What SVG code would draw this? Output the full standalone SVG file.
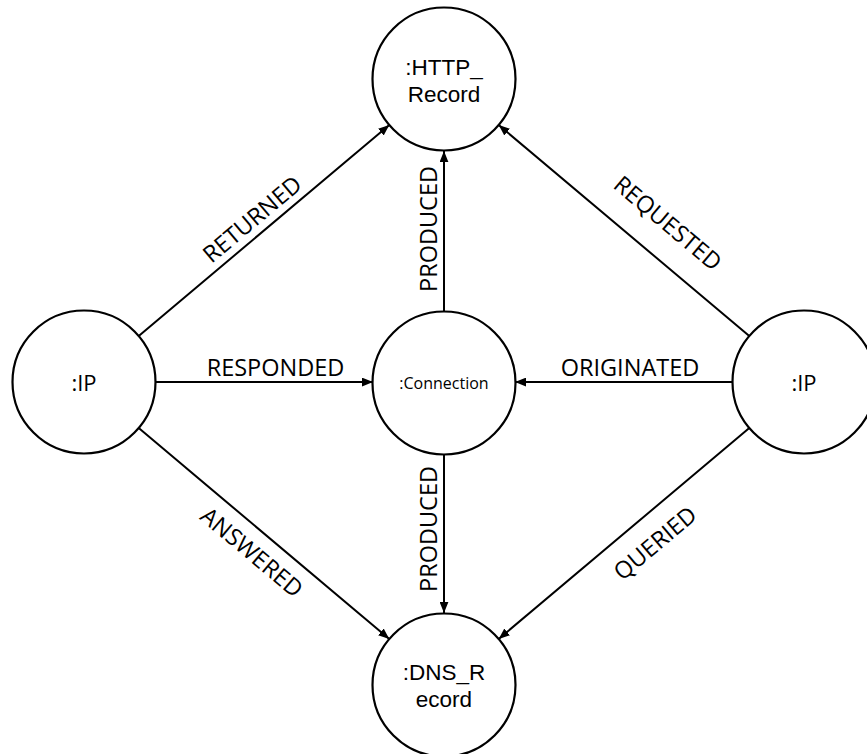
<svg xmlns="http://www.w3.org/2000/svg" width="867" height="754" viewBox="0 0 867 754">
<defs>
<style>
.node{fill:#fff;stroke:#000;stroke-width:2.2}
.edge{stroke:#000;stroke-width:2;fill:none;marker-end:url(#arr)}
text{font-family:"Open Sans","Liberation Sans",sans-serif;fill:#000}
.lbl{font-size:23.5px;text-anchor:middle}
.nl{font-size:22px;text-anchor:middle}
.nl2{font-family:"Liberation Sans",Arial,sans-serif;font-size:22.5px;text-anchor:middle}
.sm{font-size:16px;text-anchor:middle}
</style>
<marker id="arr" viewBox="0 0 10 8" refX="10" refY="4" markerWidth="11" markerHeight="9" markerUnits="userSpaceOnUse" orient="auto">
<path d="M0,0 L10,4 L0,8 Z" fill="#000"/>
</marker>
</defs>
<rect width="867" height="754" fill="#fff"/>
<g id="connectors">
<line class="edge" x1="444" y1="311" x2="444" y2="151"/>
<line class="edge" x1="444" y1="455" x2="444" y2="613"/>
<line class="edge" x1="155" y1="382" x2="373" y2="382"/>
<line class="edge" x1="733" y1="382" x2="515" y2="382"/>
<line class="edge" x1="138.7" y1="336" x2="389.3" y2="125"/>
<line class="edge" x1="749.3" y1="336" x2="498.7" y2="125"/>
<line class="edge" x1="138.7" y1="428" x2="389.3" y2="639"/>
<line class="edge" x1="749.3" y1="428" x2="498.7" y2="639"/>
<text class="lbl" transform="translate(437,229) rotate(-90)">PRODUCED</text>
<text class="lbl" transform="translate(437,529) rotate(-90)">PRODUCED</text>
<text class="lbl" x="275.5" y="376">RESPONDED</text>
<text class="lbl" x="630" y="376">ORIGINATED</text>
<text class="lbl" transform="translate(257.5,225.5) rotate(-40)">RETURNED</text>
<text class="lbl" transform="translate(662.5,229.5) rotate(40)">REQUESTED</text>
<text class="lbl" transform="translate(246.5,558.5) rotate(40)">ANSWERED</text>
<text class="lbl" transform="translate(660.5,549.5) rotate(-40)">QUERIED</text>
</g>
<g id="http_record">
<circle class="node" cx="444" cy="79" r="71.5"/>
<text class="nl2" x="444" y="75">:HTTP_</text>
<text class="nl2" x="444" y="102">Record</text>
</g>
<g id="ip_left">
<circle class="node" cx="84" cy="382" r="71.5"/>
<text class="nl" x="84" y="391">:IP</text>
</g>
<g id="connection">
<circle class="node" cx="444" cy="383" r="71.5"/>
<text class="sm" x="444" y="389">:Connection</text>
</g>
<g id="ip_right">
<circle class="node" cx="804" cy="382" r="71.5"/>
<text class="nl" x="804" y="391">:IP</text>
</g>
<g id="dns_record">
<circle class="node" cx="444" cy="685" r="71.5"/>
<text class="nl2" x="444" y="680">:DNS_R</text>
<text class="nl2" x="444" y="707">ecord</text>
</g>
</svg>
